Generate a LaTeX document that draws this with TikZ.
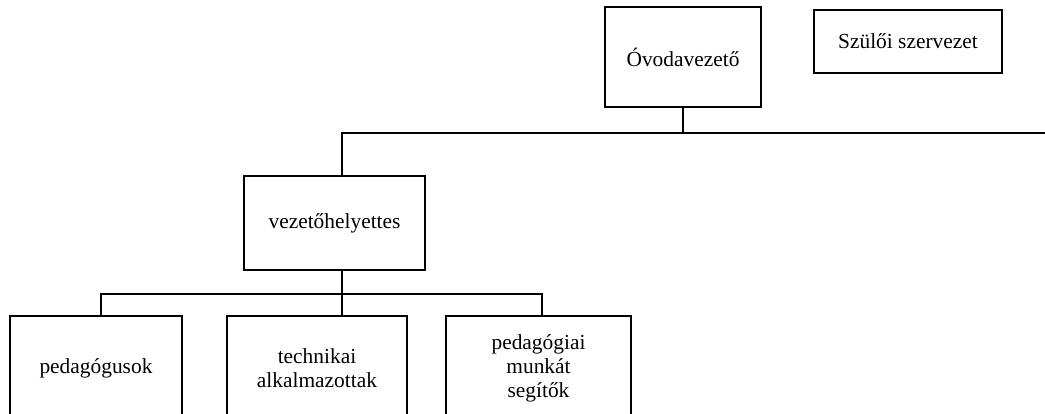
\documentclass[tikz,border=0pt]{standalone}
\usepackage{fontspec}
\setmainfont{Liberation Serif}
\usetikzlibrary{positioning}

\begin{document}
\begin{tikzpicture}[%
  x=1pt, y=-1pt, % one unit = one pixel of the sketch
  every node/.style={rectangle, draw=black, line width=1.4pt, inner sep=0pt, align=center, font=\fontsize{21.4}{24}\selectfont},
  unitbox/.style={minimum width=#1},
  link/.style={draw, line width=1.4pt}
]
\useasboundingbox (0,0) rectangle (1045,414);
\clip (0,0) rectangle (1045,414);

% Top level
\node [unitbox=156, minimum height=100] (ovoda) at (683,57) {Óvodavezető};
\node [unitbox=188, minimum height=63] (szuloi) at (908,41.5) {Szülői szervezet};

% Level 1
\node [unitbox=181, minimum height=94] (helyettes) at (334.5,223) {vezetőhelyettes};

% Level 2
\node [unitbox=172, minimum height=104] (pedagogus) at (96,368) {pedagógusok};
\node [unitbox=180, minimum height=104] (technikai) at (317,368) {technikai\\alkalmazottak};
\node [unitbox=185, minimum height=104] (segito) at (538.5,368) {pedagógiai\\munkát\\segítők};

% Bus lines
\coordinate (busL) at (342,133);
\coordinate (busR) at (1050,133);
\coordinate (lowL) at (101,294);
\coordinate (lowM) at (342,294);
\coordinate (lowR) at (542,294);

\draw [link] (ovoda.south) -- (ovoda.south |- busL);
\draw [link] (busL |- helyettes.north) |- (busR);
\draw [link] (lowM |- helyettes.south) -- (lowM |- technikai.north);
\draw [link] (lowL |- pedagogus.north) |- (lowR) -- (lowR |- segito.north);

\end{tikzpicture}
\end{document}
